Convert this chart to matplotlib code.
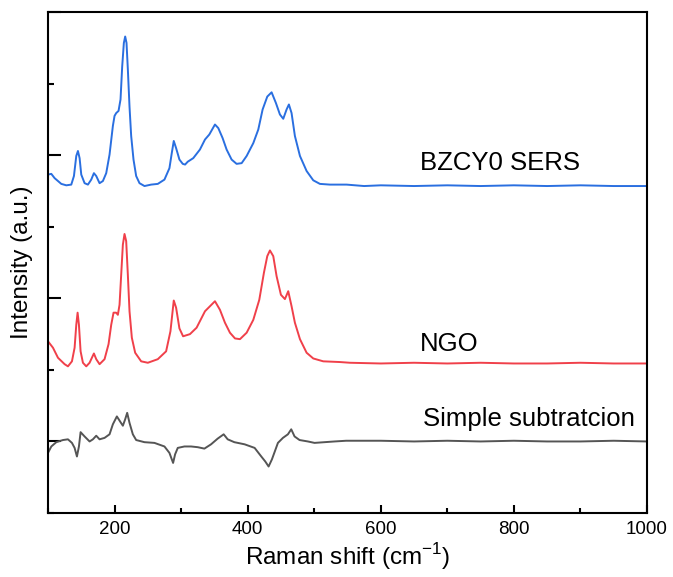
import matplotlib
matplotlib.use("Agg")

import matplotlib.pyplot as plt
from matplotlib.ticker import MultipleLocator, NullFormatter

plt.rcParams['font.family'] = ['Liberation Sans', 'DejaVu Sans']
plt.rcParams['mathtext.fontset'] = 'custom'
plt.rcParams['mathtext.rm'] = 'Liberation Sans'

# Raman spectra, stacked with vertical offsets (arbitrary units)
sers_x = [100, 105, 110, 120, 127.5, 135, 139, 142.5, 145, 147.5, 150, 155, 160, 165,
          169, 172.5, 177.5, 182.5, 187.5, 192.5, 197.5, 200, 202.5, 206, 209, 211.5,
          214, 216, 218, 220, 222.5, 225, 228.5, 232.5, 237.5, 245, 255, 265, 275,
          282.5, 286, 289, 292.5, 297.5, 302.5, 306, 310, 318.3, 328.3, 335.9, 342.4,
          350.9, 355.9, 362.4, 368.4, 375.9, 383.4, 391, 398.5, 408.5, 416, 422.5,
          429.5, 436, 442.5, 448.5, 453.5, 458.5, 462, 466, 471, 478.6, 488.6, 498.6,
          508.6, 523.7, 548.7, 575, 600, 650, 700, 750, 800, 850, 900, 950, 1000]
sers_y = [3.73, 3.74, 3.68, 3.60, 3.58, 3.59, 3.71, 3.99, 4.06, 3.96, 3.73, 3.61, 3.59,
          3.66, 3.75, 3.71, 3.61, 3.64, 3.75, 4.01, 4.41, 4.55, 4.59, 4.62, 4.78, 5.24,
          5.57, 5.66, 5.57, 5.20, 4.68, 4.27, 3.94, 3.71, 3.61, 3.57, 3.59, 3.60, 3.66,
          3.82, 4.03, 4.20, 4.10, 3.94, 3.88, 3.87, 3.91, 3.96, 4.08, 4.22, 4.29,
          4.43, 4.38, 4.24, 4.08, 3.94, 3.88, 3.89, 3.99, 4.17, 4.36, 4.64,
          4.82, 4.88, 4.73, 4.57, 4.51, 4.64, 4.71, 4.59, 4.27, 3.99, 3.78, 3.65,
          3.60, 3.59, 3.59, 3.57, 3.58, 3.57, 3.58, 3.57, 3.58, 3.57, 3.58, 3.57, 3.57]

ngo_x = [100, 107.5, 115, 125, 130, 136, 140, 142.5, 144.5, 146.5, 149, 152.5, 157.5,
         162.5, 169, 172.5, 177.5, 185, 191, 195, 198.5, 202.5, 205, 207.5, 210, 212.5,
         215, 217.5, 220, 222.5, 226, 231, 240, 250, 265, 277.5, 284, 289, 292.5,
         297.5, 303, 313.3, 323.3, 335.9, 343.4, 350.9, 358.4, 365.9, 373.4, 381,
         388.5, 398.5, 408.5, 417.5, 424.5, 429.5, 433.5, 438.5, 443.5, 450, 456, 461,
         466, 471, 478.6, 488.6, 498.6, 513.6, 538.7, 553.7, 600, 650, 700, 750, 800,
         850, 900, 950, 1000]
ngo_y = [1.40, 1.31, 1.17, 1.08, 1.05, 1.12, 1.31, 1.63, 1.80, 1.63, 1.26, 1.10, 1.05,
         1.10, 1.23, 1.15, 1.08, 1.15, 1.36, 1.63, 1.80, 1.80, 1.77, 1.91, 2.33, 2.75,
         2.90, 2.80, 2.33, 1.82, 1.45, 1.24, 1.12, 1.10, 1.15, 1.26, 1.54, 1.97, 1.87,
         1.58, 1.47, 1.50, 1.59, 1.82, 1.89, 1.96, 1.84, 1.66, 1.52, 1.44,
         1.43, 1.52, 1.70, 1.98, 2.36, 2.59, 2.67, 2.59, 2.31, 2.05, 1.99, 2.10,
         1.89, 1.66, 1.43, 1.24, 1.16, 1.12, 1.11, 1.10, 1.09, 1.10, 1.09, 1.10, 1.09,
         1.09, 1.10, 1.09, 1.09]

sub_x = [100, 105, 112.5, 122.5, 130, 136, 140, 143.5, 146.5, 149, 155, 162.5, 167.5,
         172.5, 177.5, 185, 192.5, 197.5, 203.5, 209, 212.5, 216, 219, 222.5, 227.5,
         232.5, 245, 260, 275, 282.5, 288, 291, 295, 305, 315, 325, 335, 345, 355, 364,
         370, 380, 395.5, 410.5, 420.5, 426.5, 431.5, 436.5, 445.5, 453, 460.5, 465.5,
         470.5, 478, 490.5, 500.5, 515.5, 530.5, 548, 600, 650, 700, 750, 800, 850, 900,
         950, 1000]
sub_y = [-0.16, -0.07, -0.01, 0.02, 0.03, -0.02, -0.09, -0.21, -0.07, 0.13, 0.07, 0.00,
         0.03, 0.08, 0.03, 0.05, 0.10, 0.24, 0.35, 0.27, 0.22, 0.31, 0.40, 0.26, 0.10,
         0.02, -0.01, -0.02, -0.07, -0.16, -0.30, -0.18, -0.09, -0.07, -0.07, -0.08, -0.10,
         -0.04, 0.04, 0.10, 0.03, -0.01, -0.04, -0.09, -0.21, -0.28, -0.35, -0.25, -0.02,
         0.05, 0.10, 0.17, 0.07, 0.02, 0.00, -0.02, -0.01, 0.00, 0.01, 0.01, 0.00, 0.01,
         0.00, 0.01, 0.00, 0.00, 0.01, 0.00]

labels = ["BZCY0 SERS", "NGO", "Simple subtratcion"]
label_x = [659, 659, 663]
label_y = [3.79, 1.26, 0.22]

fig = plt.figure(figsize=(6.73, 5.77), dpi=100)
ax = fig.add_axes([0.0713, 0.1109, 0.89, 0.868])

ax.plot(sers_x, sers_y, color="#2a6fe0", lw=1.4)
ax.plot(ngo_x, ngo_y, color="#f0404a", lw=1.4)
ax.plot(sub_x, sub_y, color="#555555", lw=1.4)

for txt, tx, ty in zip(labels, label_x, label_y):
    ax.text(tx, ty, txt, fontsize=18.5, color="black", ha="left", va="baseline")

ax.set_xlim(100, 1000)
ax.set_ylim(-1, 6)
ax.xaxis.set_major_locator(MultipleLocator(200))
ax.xaxis.set_minor_locator(MultipleLocator(100))
ax.yaxis.set_major_locator(MultipleLocator(2))
ax.yaxis.set_minor_locator(MultipleLocator(1))
ax.yaxis.set_major_formatter(NullFormatter())

ax.tick_params(which="both", direction="in", width=1.5)
ax.tick_params(which="major", length=6, labelsize=13.5, pad=6)
ax.tick_params(which="minor", length=3.5)
ax.tick_params(axis="y", which="major", length=9)
ax.tick_params(axis="y", which="minor", length=4.5)
for s in ax.spines.values():
    s.set_linewidth(1.5)

ax.set_xlabel("Raman shift (cm$^{-1}$)", fontsize=17.5, labelpad=2)
ax.set_ylabel("Intensity (a.u.)", fontsize=17.5, labelpad=5)

fig.savefig("out.png", dpi=100)
